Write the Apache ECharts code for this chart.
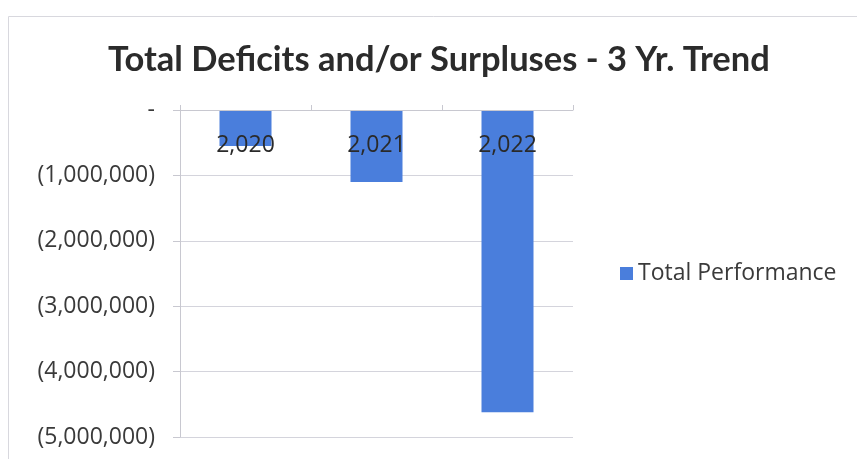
<!DOCTYPE html>
<html>
<head>
<meta charset="utf-8">
<script src="https://cdn.jsdelivr.net/npm/echarts@6/dist/echarts.min.js"></script>
<style>
html,body{margin:0;padding:0;background:#fff;}
#chart{width:857px;height:459px;}
</style>
</head>
<body>
<div id="chart"></div>
<script>
const titleText = 'Total Deficits and/or Surpluses - 3 Yr. Trend';
const categories = ['2,020', '2,021', '2,022'];
const seriesName = 'Total Performance';
const values = [-550000, -1100000, -4620000];
const yTicks = [0, -1000000, -2000000, -3000000, -4000000, -5000000];

const TFONT = 'Lato, "Liberation Sans", sans-serif';
const FONT = '"Open Sans", "Noto Sans", sans-serif';
const chart = echarts.init(document.getElementById('chart'));

function fmt(v) {
  if (v === 0) return '-';
  const s = Math.abs(v).toLocaleString('en-US');
  return v < 0 ? '(' + s + ')' : s;
}

chart.setOption({
  animation: false,
  backgroundColor: '#fff',
  title: {
    text: titleText,
    left: 103,
    top: 37,
    textStyle: { fontFamily: TFONT, fontSize: 34.5, fontWeight: 'bold', color: '#2b2b2b' }
  },
  legend: {
    data: [seriesName],
    left: 615,
    top: 257,
    icon: 'rect',
    itemWidth: 13,
    itemHeight: 13,
    itemGap: 7,
    textStyle: { fontFamily: FONT, fontSize: 23, color: '#3a3a3a' }
  },
  grid: { left: 180, right: 284, top: 110, bottom: 22, outerBoundsMode: 'none', containLabel: false },
  xAxis: {
    type: 'category',
    position: 'top',
    data: categories,
    z: 10,
    axisLine: { onZero: false, lineStyle: { color: '#c8c8d0', width: 1 } },
    axisTick: { show: true, inside: false, length: 5, lineStyle: { color: '#c8c8d0' } },
    axisLabel: { inside: true, margin: 24, fontFamily: FONT, fontSize: 23, color: '#2a2a2a' }
  },
  yAxis: {
    type: 'value',
    min: yTicks[yTicks.length - 1],
    max: yTicks[0],
    interval: 1000000,
    axisLine: { show: true, lineStyle: { color: '#c8c8d0' } },
    axisTick: { show: true, length: 7, lineStyle: { color: '#c8c8d0' } },
    axisLabel: { margin: 25, fontFamily: FONT, fontSize: 23, color: '#3a3a3a', formatter: fmt },
    splitLine: { lineStyle: { color: '#d4d4dc', width: 1 } }
  },
  graphic: [{
    type: 'rect',
    shape: { x: 8.5, y: 16.5, width: 870, height: 470 },
    style: { fill: 'none', stroke: '#d8d8de', lineWidth: 1 },
    silent: true
  }],
  series: [{
    name: seriesName,
    type: 'bar',
    data: values,
    barWidth: 52,
    itemStyle: { color: '#4a7edc' },
    z: 2
  }]
});
</script>
</body>
</html>
